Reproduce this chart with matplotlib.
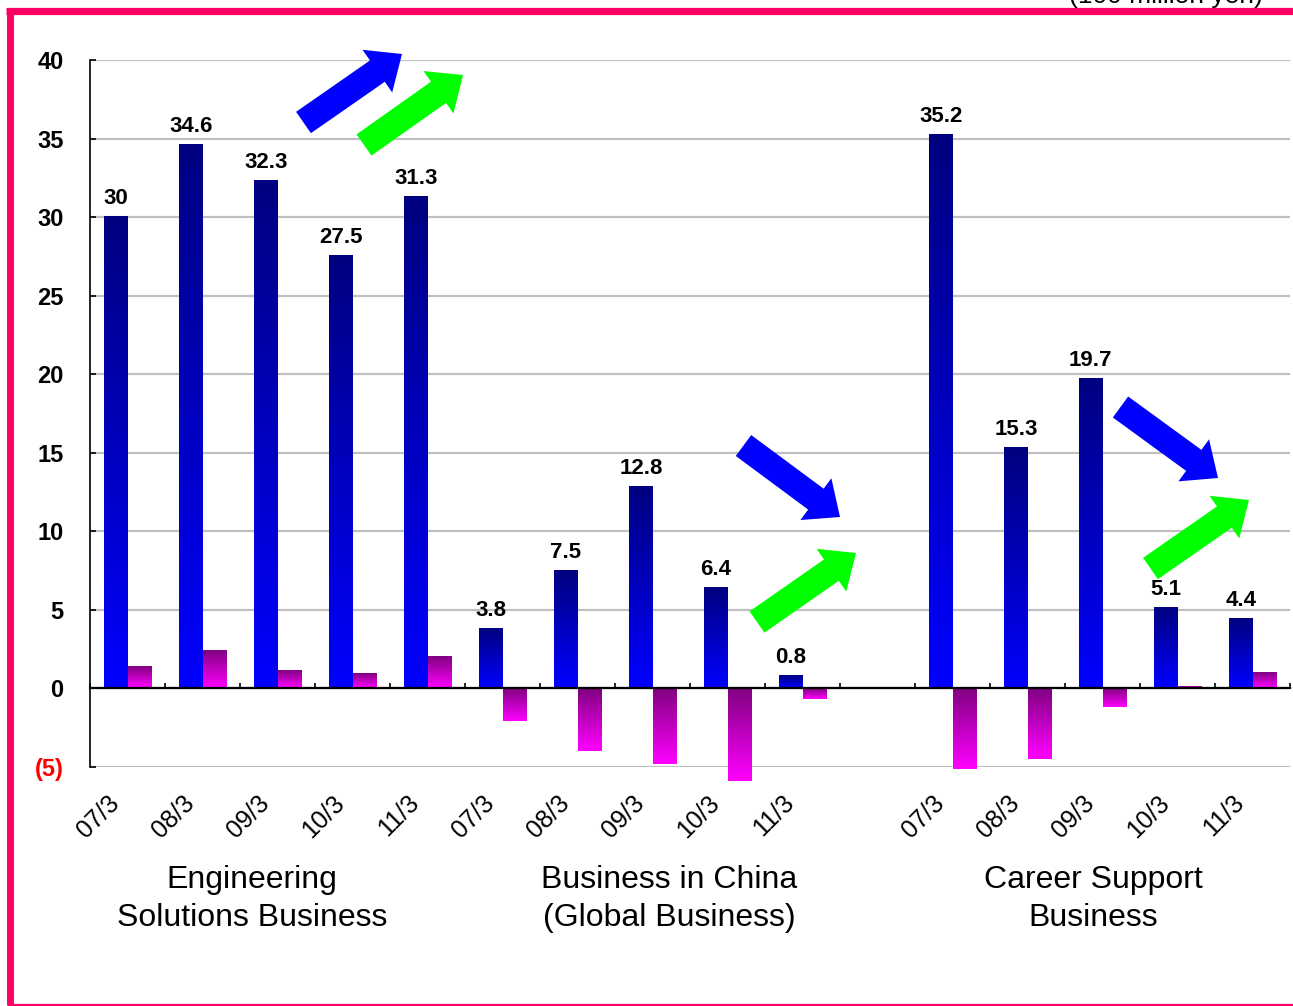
import numpy as np
import matplotlib
matplotlib.use("Agg")
import matplotlib.pyplot as plt
from matplotlib.colors import LinearSegmentedColormap
from matplotlib.patches import FancyArrow
import matplotlib.transforms as mtransforms

plt.rcParams['font.family'] = ['Liberation Sans', 'DejaVu Sans']

# ---- data (100 million yen) ----
periods = ["07/3", "08/3", "09/3", "10/3", "11/3"]
groups = ["Engineering\nSolutions Business",
          "Business in China\n(Global Business)",
          "Career Support\nBusiness"]
group_slot_start = [0, 5, 11]          # slot index of each group's first period

sales_eng = [30, 34.6, 32.3, 27.5, 31.3]
sales_china = [3.8, 7.5, 12.8, 6.4, 0.8]
sales_career = [35.2, 15.3, 19.7, 5.1, 4.4]

profit_eng = [1.4, 2.4, 1.1, 0.9, 2.0]
profit_china = [-2.1, -4.0, -4.8, -5.9, -0.7]
profit_career = [-5.1, -4.5, -1.2, 0.1, 1.0]

sales = [sales_eng, sales_china, sales_career]
profit = [profit_eng, profit_china, profit_career]

ytick_vals = [-5, 0, 5, 10, 15, 20, 25, 30, 35, 40]

# ---- figure ----
W, H = 1293, 1006
fig = plt.figure(figsize=(W / 100, H / 100), dpi=100)
ax = fig.add_axes([90 / W, 1 - 767 / H, 1200 / W, 707 / H])
ax.set_xlim(-0.5, 15.5)
ax.set_ylim(-5, 40)

blue_cmap = LinearSegmentedColormap.from_list("blue_grad", ["#0000FF", "#000080"])
pink_cmap = LinearSegmentedColormap.from_list("pink_grad", ["#FF00FF", "#800080"])
grad = np.linspace(0, 1, 256).reshape(-1, 1)

bw = 0.31


def gradient_bars(xs, vals, cmap):
    bars = ax.bar(xs, vals, width=bw, color="none", edgecolor="none", zorder=3)
    for b in bars:
        x0 = b.get_x()
        y0 = b.get_y()
        h = b.get_height()
        ylo, yhi = min(y0, y0 + h), max(y0, y0 + h)
        ax.imshow(grad, extent=[x0, x0 + b.get_width(), ylo, yhi], origin="lower",
                  cmap=cmap, aspect="auto", zorder=3, interpolation="bilinear",
                  clip_on=False)
    return bars


label_off = mtransforms.offset_copy(ax.transData, fig=fig, x=0, y=13, units="dots")
cat_tr = mtransforms.offset_copy(
    mtransforms.blended_transform_factory(ax.transData, ax.transAxes),
    fig=fig, x=-12, y=-32, units="dots")

for g, start in enumerate(group_slot_start):
    xs = np.arange(start, start + len(periods))
    gradient_bars(xs - bw / 2, sales[g], blue_cmap)
    gradient_bars(xs + bw / 2, profit[g], pink_cmap)
    for x, v in zip(xs, sales[g]):
        ax.text(x - bw / 2, v, f"{v:g}", transform=label_off, ha="center",
                va="baseline", fontsize=16, fontweight="bold", zorder=5)
    for x, p in zip(xs, periods):
        ax.text(x, 0, p, transform=cat_tr, rotation=45, rotation_mode="anchor",
                ha="right", va="center", fontsize=18)

ax.set_xlim(-0.5, 15.5)
ax.set_ylim(-5, 40)

# ---- axes styling ----
ax.set_yticks(ytick_vals)
ax.set_yticklabels(["(5)" if v < 0 else str(v) for v in ytick_vals],
                   fontsize=17, fontweight="bold")
ax.get_yticklabels()[0].set_color("red")
ax.yaxis.grid(True, color="#c0c0c0", lw=1.6, zorder=0)
ax.set_axisbelow(True)
ax.tick_params(axis="y", direction="in", length=4.5, width=1.2, pad=19)

ax.set_xticks(np.arange(-0.5, 16, 1.0))
ax.set_xticklabels([])
ax.tick_params(axis="x", direction="in", length=3.8, width=1.2)

for s in ("top", "right"):
    ax.spines[s].set_visible(False)
ax.spines["bottom"].set_position(("data", 0))
ax.spines["bottom"].set_linewidth(1.6)
ax.spines["left"].set_linewidth(1.2)
ax.spines["bottom"].set_zorder(4)

# ---- group captions and unit ----
cap_x = [252, 669, 1093]
for name, cx in zip(groups, cap_x):
    fig.text(cx / W, 1 - 899 / H, name, ha="center", va="center",
             fontsize=23, linespacing=1.36)
fig.text(1166 / W, 1 - 3 / H, "(100 million yen)", ha="center", va="baseline",
         fontsize=19)

# ---- overlay: trend arrows and frame ----
ov = fig.add_axes([0, 0, 1, 1], zorder=10)
ov.set_xlim(0, W)
ov.set_ylim(H, 0)
ov.axis("off")
ov.patch.set_alpha(0)

arrows = [
    ((303.5, 122.5), (402, 54), "#0000FF"),
    ((364, 145), (463, 75), "#00FF00"),
    ((743.5, 445.5), (840, 517), "#0000FF"),
    ((757, 622), (856, 553), "#00FF00"),
    ((1120.5, 407), (1218, 478), "#0000FF"),
    ((1150.5, 568.5), (1249, 500), "#00FF00"),
]
for (x0, y0), (x1, y1), c in arrows:
    ov.add_patch(FancyArrow(x0, y0, x1 - x0, y1 - y0, width=26, head_width=52,
                            head_length=30, length_includes_head=True,
                            color=c, lw=0))

frame = "#FF0066"
ov.plot([6, W], [11, 11], color=frame, lw=5.2, solid_capstyle="butt")
ov.plot([10, 10], [8, 1005], color=frame, lw=5.0, solid_capstyle="butt")
ov.plot([8, W], [1004.5, 1004.5], color=frame, lw=1.6, solid_capstyle="butt")

fig.savefig("out.png", dpi=100)
